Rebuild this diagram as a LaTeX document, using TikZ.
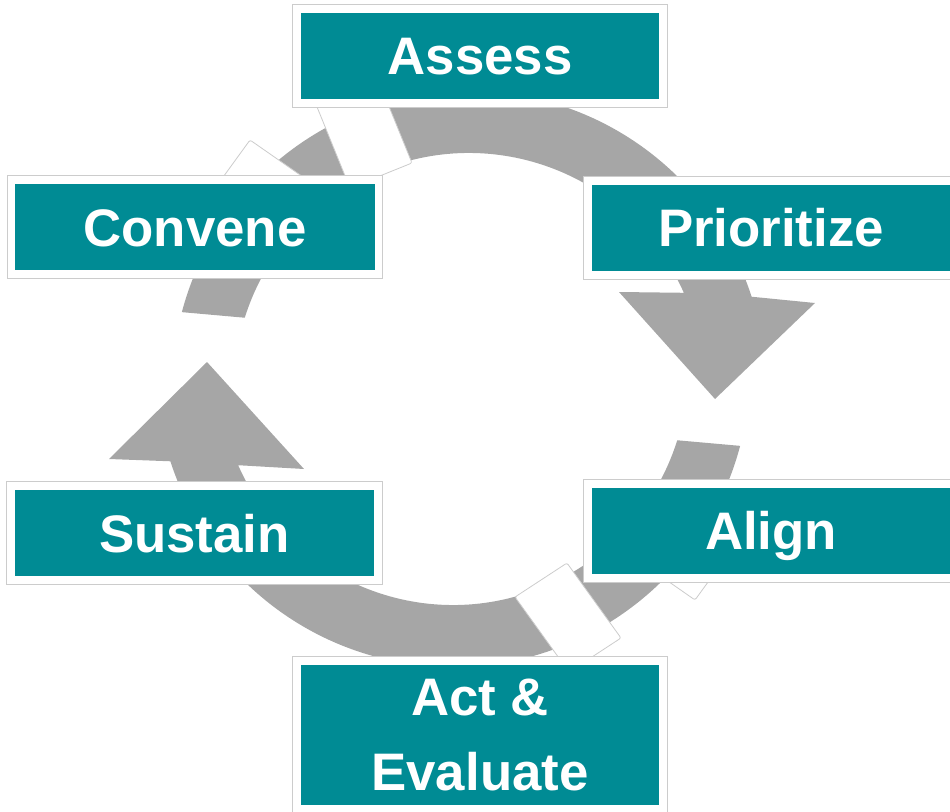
\documentclass[tikz,border=0pt]{standalone}
\usepackage{fontspec}
\newfontfamily\labelfont{Liberation Sans}
\usetikzlibrary{calc}
\definecolor{tealbox}{HTML}{008B94}
\definecolor{ringgray}{HTML}{A6A6A6}
\definecolor{edgegray}{HTML}{CCCCCC}
\begin{document}
\begin{tikzpicture}[x=1bp,y=-1bp,
  arrowfill/.style={fill=ringgray, draw=none},
  blankshape/.style={fill=white, draw=edgegray, line width=0.8bp, rounded corners=2bp},
  stageframe/.style={fill=white, draw=edgegray, line width=1bp, minimum width=375bp, minimum height=103bp, inner sep=0pt},
  stagebox/.style={fill=tealbox, draw=none, text=white, inner sep=0pt, minimum width=358bp, minimum height=86bp, font=\labelfont\bfseries\fontsize{53}{75}\selectfont, align=center},
  oneline/.style={stagebox, text height=38bp, text depth=0bp}
]
\useasboundingbox (0,0) rectangle (950,812);
\clip (0,0) rectangle (950,812);

% circular arrows
\coordinate (c1) at (469,388);
\coordinate (c2) at (453,370);
\fill[arrowfill] ($(c1)+(194.8:297)$) arc[start angle=194.8, end angle=342.1, radius=297]
  -- (815,303) -- (715,399) -- (619,292) -- ($(c1)+(336.1:235)$)
  arc[start angle=336.1, end angle=197.4, radius=235] -- cycle;
\fill[arrowfill] ($(c2)+(14.8:297)$) arc[start angle=14.8, end angle=162.1, radius=297]
  -- (109,459) -- (207,362) -- (304,469) -- ($(c2)+(156.1:235)$)
  arc[start angle=156.1, end angle=17.4, radius=235] -- cycle;

% blank white shapes over the ring
\draw[blankshape] (250,140) -- (326,193) -- (289,244) -- (213,191) -- cycle;
\draw[blankshape] (412,163) -- (350,188) -- (315,102) -- (377,77) -- cycle;
\draw[blankshape] (515,597) -- (567,563) -- (621,638) -- (569,672) -- cycle;
\draw[blankshape] (695,600) -- (619,547) -- (656,496) -- (732,549) -- cycle;

% stage boxes
\node[stageframe] (assessframe) at (480,56) {};
\node[oneline] (assess) at (480,56) {Assess};
\node[stageframe] (conveneframe) at (195,227) {};
\node[oneline, minimum width=360bp] (convene) at (195,227) {Convene};
\node[stageframe] (prioritizeframe) at (771,227.5) {};
\node[oneline] (prioritize) at (771,227.5) {Prioritize};
\node[stageframe] (alignframe) at (771,530.5) {};
\node[oneline] (align) at (771,530.5) {Align};
\node[stageframe] (sustainframe) at (194.5,533) {};
\node[oneline] (sustain) at (194.5,533) {Sustain};
\node[stageframe, minimum height=157bp] (actframe) at (480,735) {};
\node[stagebox, minimum height=140bp] (act) at (480,735) {Act \&\\Evaluate};
\end{tikzpicture}
\end{document}
